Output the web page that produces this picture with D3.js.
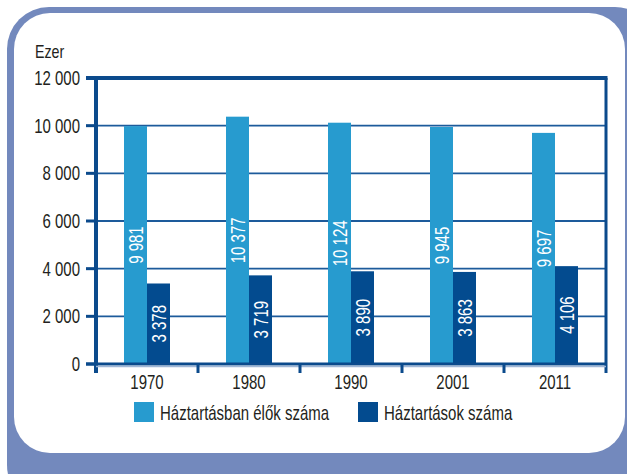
<!DOCTYPE html>
<html>
<head>
<meta charset="utf-8">
<script src="https://cdn.jsdelivr.net/npm/d3@7"></script>
<style>
  html, body { margin: 0; padding: 0; background: #fff; }
  svg { display: block; }
  text { font-family: "Liberation Sans", Arial, sans-serif; }
</style>
</head>
<body>
<div id="chart"></div>
<script>
/************************
 *  Data
 ************************/
const years = ["1970", "1980", "1990", "2001", "2011"];
const personsValues = [9981, 10377, 10124, 9945, 9697];
const householdValues = [3378, 3719, 3890, 3863, 4106];
const yTicks = [0, 2000, 4000, 6000, 8000, 10000, 12000];
const seriesNames = ["Háztartásban élők száma", "Háztartások száma"];

/************************
 *  Config
 ************************/
const width = 627;
const height = 474;
const plot = { left: 96, right: 606, top: 78, bottom: 364 };
const lightBlue = "#279bcf";
const darkBlue = "#034b8f";
const axisBlue = "#0b4a8c";
const frameBlue = "#7389bd";
const textColor = "#231f20";
const narrow = 0.75; // horizontal squeeze to imitate the condensed face

const fmt = v => {
  const s = String(v);
  return s.length > 3 ? s.slice(0, s.length - 3) + " " + s.slice(-3) : s;
};

const svg = d3.select("#chart")
  .append("svg")
  .attr("width", width)
  .attr("height", height);

// Frame
svg.append("rect")
  .attr("x", 7).attr("y", 7)
  .attr("width", 650).attr("height", 500)
  .attr("rx", 42)
  .style("fill", frameBlue);

svg.append("rect")
  .attr("x", 14).attr("y", 13)
  .attr("width", 611).attr("height", 440)
  .attr("rx", 36)
  .style("fill", "#fff");

/************************
 *  Scales
 ************************/
const x = d3.scaleBand().domain(years).range([plot.left, plot.right]);
const y = d3.scaleLinear().domain([0, 12000]).range([plot.bottom, plot.top]);
const barW = 23;

// Gridlines
svg.selectAll(".grid")
  .data(yTicks.filter(d => d > 0 && d < 12000))
  .enter()
  .append("line")
  .attr("x1", plot.left).attr("x2", plot.right)
  .attr("y1", d => y(d)).attr("y2", d => y(d))
  .style("stroke", "#1d5b9b")
  .style("stroke-width", 1.8);

// Y ticks and labels
svg.selectAll(".ytick")
  .data(yTicks)
  .enter()
  .append("line")
  .attr("x1", 86).attr("x2", plot.left)
  .attr("y1", d => y(d)).attr("y2", d => y(d))
  .style("stroke", axisBlue)
  .style("stroke-width", 3);

svg.selectAll(".ylabel")
  .data(yTicks)
  .enter()
  .append("text")
  .attr("transform", d => `translate(80,${y(d) + 7}) scale(${narrow},1)`)
  .attr("text-anchor", "end")
  .style("font-size", "20px")
  .style("fill", textColor)
  .text(d => fmt(d));

svg.append("text")
  .attr("transform", `translate(35,58) scale(${narrow},1)`)
  .style("font-size", "19px")
  .style("fill", textColor)
  .text("Ezer");

/************************
 *  Bars
 ************************/
const groups = svg.selectAll(".year")
  .data(years)
  .enter()
  .append("g")
  .attr("transform", d => `translate(${x(d) + x.bandwidth() / 2},0)`);

function drawBars(values, offset, color) {
  groups.append("rect")
    .attr("x", offset)
    .attr("y", (_, i) => y(values[i]))
    .attr("width", barW)
    .attr("height", (_, i) => y(0) - y(values[i]))
    .style("fill", color);

  groups.append("text")
    .attr("transform", (_, i) =>
      `translate(${offset + barW / 2 + 7},${(y(values[i]) + y(0)) / 2}) rotate(-90) scale(${narrow},1)`)
    .attr("text-anchor", "middle")
    .style("font-size", "20px")
    .style("fill", "#fff")
    .text((_, i) => fmt(values[i]));
}

drawBars(personsValues, -barW, lightBlue);
drawBars(householdValues, 0, darkBlue);

/************************
 *  Axes frame
 ************************/
svg.append("line")
  .attr("x1", 86).attr("x2", plot.right + 1.5)
  .attr("y1", plot.top).attr("y2", plot.top)
  .style("stroke", axisBlue).style("stroke-width", 4);

svg.append("line")
  .attr("x1", plot.left).attr("x2", plot.left)
  .attr("y1", plot.top).attr("y2", 373)
  .style("stroke", axisBlue).style("stroke-width", 4);

svg.append("line")
  .attr("x1", plot.right).attr("x2", plot.right)
  .attr("y1", plot.top).attr("y2", 373)
  .style("stroke", axisBlue).style("stroke-width", 3);

svg.append("line")
  .attr("x1", 86).attr("x2", plot.right)
  .attr("y1", plot.bottom).attr("y2", plot.bottom)
  .style("stroke", axisBlue).style("stroke-width", 3);

svg.append("line")
  .attr("x1", plot.left).attr("x2", plot.right)
  .attr("y1", plot.bottom + 2.5).attr("y2", plot.bottom + 2.5)
  .style("stroke", "#9fb6d6").style("stroke-width", 1.5);

// Category boundary ticks
svg.selectAll(".xtick")
  .data(years.slice(1))
  .enter()
  .append("line")
  .attr("x1", d => x(d)).attr("x2", d => x(d))
  .attr("y1", plot.bottom).attr("y2", 373)
  .style("stroke", axisBlue).style("stroke-width", 3);

svg.selectAll(".xlabel")
  .data(years)
  .enter()
  .append("text")
  .attr("transform", d => `translate(${x(d) + x.bandwidth() / 2},389) scale(${narrow},1)`)
  .attr("text-anchor", "middle")
  .style("font-size", "20px")
  .style("fill", textColor)
  .text(d => d);

/************************
 *  Legend
 ************************/
const legendItems = [
  { name: seriesNames[0], color: lightBlue, x: 134 },
  { name: seriesNames[1], color: darkBlue, x: 358 }
];

const legend = svg.selectAll(".legend")
  .data(legendItems)
  .enter()
  .append("g")
  .attr("transform", d => `translate(${d.x},402)`);

legend.append("rect")
  .attr("width", 20).attr("height", 20)
  .style("fill", d => d.color);

legend.append("text")
  .attr("transform", `translate(26,17.5) scale(${narrow},1)`)
  .style("font-size", "20px")
  .style("fill", textColor)
  .text(d => d.name);
</script>
</body>
</html>
